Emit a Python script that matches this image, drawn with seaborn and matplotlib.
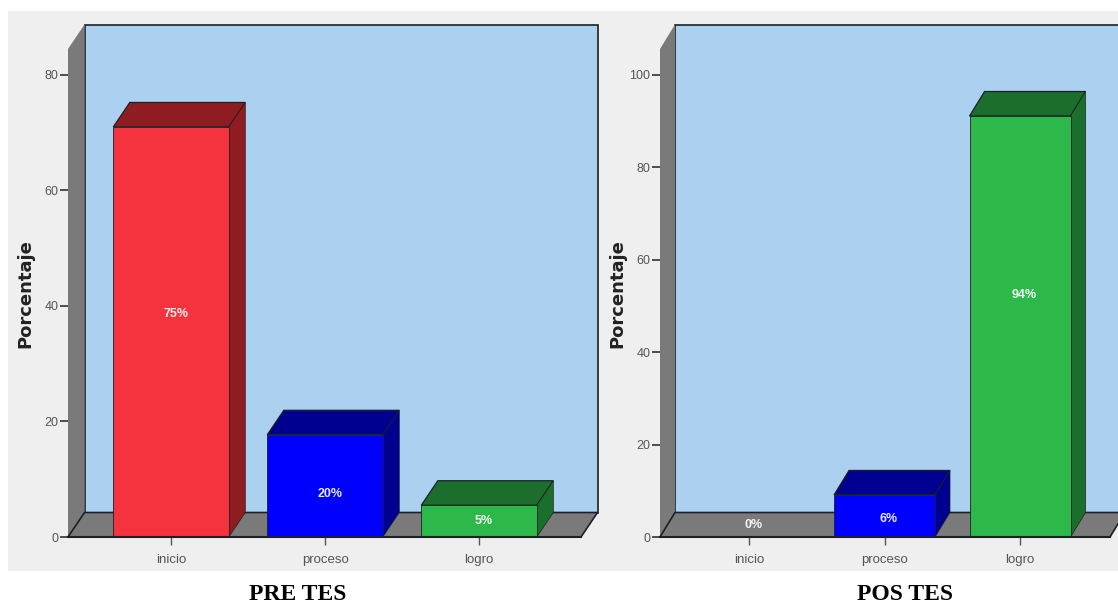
# -*- coding: utf-8 -*-
import matplotlib
matplotlib.use('Agg')
import matplotlib.pyplot as plt
from matplotlib.patches import Polygon, Rectangle
import seaborn as sns

categories = ['inicio', 'proceso', 'logro']

pre_values = [71, 17.7, 5.5]
pre_labels = ['75%', '20%', '5%']
pre_ticks = [0, 20, 40, 60, 80]

pos_values = [0, 9.1, 91.1]
pos_labels = ['0%', '6%', '94%']
pos_ticks = [0, 20, 40, 60, 80, 100]

bar_colors = ['#f5333f', '#0000ff', '#2db84a']
top_colors = {'#f5333f': '#8e1c20', '#0000ff': '#000090', '#2db84a': '#1c6e2c'}

W, H = 1118, 605
WALL = '#acd0ef'
GREY = '#7a7a7a'
EDGE = '#1c2024'

sns.set_style('white')
plt.rcParams['font.family'] = ['Liberation Sans', 'DejaVu Sans']

fig = plt.figure(figsize=(W / 100, H / 100), dpi=100, facecolor='white')
fig.add_artist(Rectangle((8 / W, 1 - 571 / H), (W - 8) / W, 560 / H,
                         transform=fig.transFigure, fc='#efefef', ec='none', zorder=-5))


def draw_chart(box, values, labels, ticks, xlim, ylim, width, depth, label_y, title, title_x):
    # box is left, right, top of the front plane in pixels, the base is always 537
    left, right, top = box
    ax = fig.add_axes([left / W, 1 - 537 / H, (right - left) / W, (537 - top) / H])
    ax.patch.set_visible(False)

    sns.barplot(x=categories, y=values, hue=categories, palette=bar_colors, width=width,
                legend=False, ax=ax, saturation=1, edgecolor=EDGE, linewidth=0.6, zorder=5)
    ax.set_xlim(*xlim)
    ax.set_ylim(*ylim)

    dx = depth[0] * (xlim[1] - xlim[0]) / (right - left)
    dy = depth[1] * (ylim[1] - ylim[0]) / (537 - top)
    x0, x1 = xlim
    y1 = ylim[1]

    # walls and floor of the fake 3d box
    ax.add_patch(Polygon([(x0 + dx, dy), (x1 + dx, dy), (x1 + dx, y1 + dy), (x0 + dx, y1 + dy)],
                         fc=WALL, ec=EDGE, lw=1.2, zorder=1, clip_on=False))
    ax.add_patch(Polygon([(x0, 0), (x0 + dx, dy), (x0 + dx, y1 + dy), (x0, y1)],
                         fc=GREY, ec='none', zorder=2, clip_on=False))
    ax.add_patch(Polygon([(x0, 0), (x1, 0), (x1 + dx, dy), (x0 + dx, dy)],
                         fc=GREY, ec=EDGE, lw=1.2, zorder=2, clip_on=False))

    for bar, color in zip(ax.patches[:3], bar_colors):
        h = bar.get_height()
        if h == 0:
            continue
        a = bar.get_x()
        b = a + bar.get_width()
        dark = top_colors[color]
        ax.add_patch(Polygon([(a, h), (b, h), (b + dx, h + dy), (a + dx, h + dy)],
                             fc=dark, ec=EDGE, lw=0.9, zorder=4, clip_on=False))
        ax.add_patch(Polygon([(b, 0), (b + dx, dy), (b + dx, h + dy), (b, h)],
                             fc=dark, ec=EDGE, lw=0.5, zorder=4, clip_on=False))
        bar.set_clip_on(False)

    for i, (txt, y) in enumerate(zip(labels, label_y)):
        ax.text(i + 0.03, y, txt, color='white', ha='center', va='center',
                fontsize=9, fontweight='bold', alpha=0.92, zorder=8)

    sns.despine(ax=ax, top=True, right=True, left=True, bottom=False)
    ax.spines['bottom'].set_color(EDGE)
    ax.spines['bottom'].set_linewidth(1.5)
    ax.spines['bottom'].set_zorder(6)

    ax.set_yticks(ticks)
    ax.tick_params(axis='y', left=True, length=6, width=1.1, color='#222222', pad=1,
                   labelsize=9, labelcolor='#555555')
    ax.tick_params(axis='x', bottom=True, length=6, width=1, color='#555555', pad=6,
                   labelsize=9.5, labelcolor='#555555')
    ax.set_xlabel('')
    ax.set_ylabel('')

    fig.text(25 / W if left < 300 else 617 / W, 1 - 294 / H, 'Porcentaje', rotation=90,
             ha='center', va='center', family='DejaVu Sans', fontweight='bold',
             fontsize=13, color='#222222')
    fig.text(title_x / W, 1 - 595 / H, title, ha='center', va='center',
             family='Liberation Serif', fontweight='bold', fontsize=17, color='black')


draw_chart((68, 581, 49), pre_values, pre_labels, pre_ticks,
           (-0.669, 2.662), (0, 84.5), 0.75, (16.5, 24.5),
           [38.6, 7.4, 2.8], 'PRE TES', 298)
draw_chart((660, 1110, 49), pos_values, pos_labels, pos_ticks,
           (-0.657, 2.664), (0, 105.6), 0.745, (15, 24.5),
           [2.6, 3.9, 52.4], 'POS TES', 905)

fig.savefig('out.png', dpi=100)
